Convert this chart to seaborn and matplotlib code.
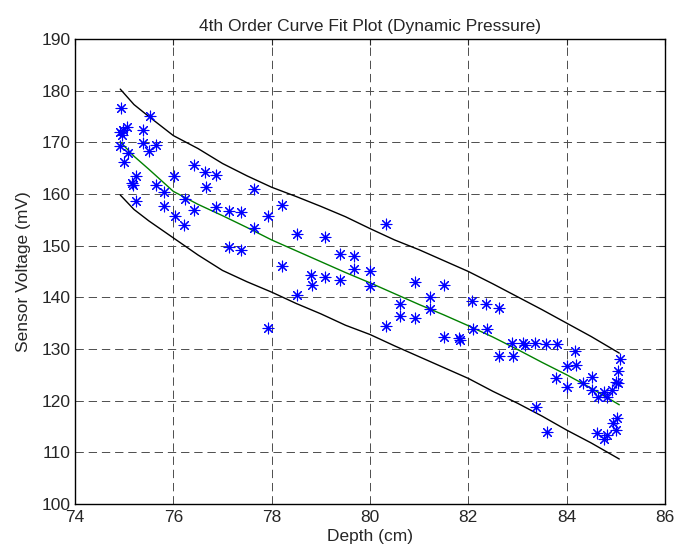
import matplotlib
matplotlib.use('Agg')
import matplotlib.pyplot as plt
import seaborn as sns
import pandas as pd

# Measured points
depth = [74.94, 75.52, 75.06, 74.92, 74.95, 74.98, 75.38, 75.38, 75.65, 75.50,
         74.91, 75.08, 75.00, 75.25, 75.15, 75.17, 75.65, 76.01, 75.82, 75.25,
         75.82, 76.03, 76.23, 76.22, 76.42, 76.41, 76.64, 76.87, 76.66, 76.87,
         77.13, 77.38, 77.65, 77.93, 78.20, 77.65, 77.13, 77.38, 78.20, 78.51,
         79.08, 80.32, 79.39, 79.68, 79.68, 80.00, 78.79, 79.08, 79.39, 78.81,
         80.00, 80.91, 78.51, 77.93, 80.61, 80.61, 80.32, 80.91, 81.51, 81.22,
         81.22, 82.07, 82.35, 82.62, 81.51, 81.81, 81.83, 82.10, 82.37, 82.88,
         83.12, 83.15, 83.36, 83.58, 83.80, 82.62, 82.90, 83.78, 84.17, 84.00,
         84.19, 84.00, 84.34, 84.51, 84.51, 84.64, 84.76, 84.83, 84.93, 85.00,
         85.05, 85.05, 85.08, 83.38, 83.59, 84.61, 84.76, 84.83, 84.95, 85.02,
         85.00]
voltage = [176.6, 175.0, 173.0, 171.9, 171.4, 172.3, 172.3, 169.9, 169.5, 168.4,
           169.2, 167.9, 166.1, 163.5, 162.2, 161.7, 161.7, 163.4, 160.3, 158.7,
           157.7, 155.7, 159.0, 153.9, 156.9, 165.7, 164.3, 163.6, 161.4, 157.4,
           156.7, 156.5, 161.0, 155.7, 157.9, 153.4, 149.8, 149.2, 146.1, 152.3,
           151.6, 154.2, 148.4, 147.9, 145.5, 145.0, 144.3, 143.9, 143.4, 142.4,
           142.2, 143.0, 140.5, 134.1, 138.7, 136.3, 134.5, 135.9, 142.3, 140.1,
           137.7, 139.2, 138.8, 138.0, 132.4, 132.2, 131.7, 133.9, 133.9, 131.1,
           131.1, 130.8, 131.2, 131.0, 131.0, 128.7, 128.7, 124.3, 129.7, 126.7,
           126.9, 122.6, 123.4, 124.5, 122.1, 120.7, 121.6, 120.7, 122.1, 123.7,
           123.4, 125.7, 128.1, 118.8, 114.0, 113.7, 112.5, 113.4, 115.6, 116.6,
           114.3]

# Fitted curve and bounds
fit_depth = [74.92, 75.2, 75.5, 76.0, 76.5, 77.0, 77.5, 78.0, 78.5, 79.0, 79.5,
             80.0, 80.5, 81.0, 81.5, 82.0, 82.5, 83.0, 83.5, 84.0, 84.5, 85.07]
fit_voltage = [170.1, 167.3, 164.8, 160.5, 158.0, 155.8, 153.5, 151.1, 149.0, 146.9, 144.8,
               142.8, 140.7, 138.6, 136.6, 134.5, 132.3, 129.9, 127.4, 125.0, 122.4, 119.2]
upper_voltage = [180.3, 177.3, 175.0, 171.3, 168.8, 165.9, 163.5, 161.3, 159.5, 157.6, 155.6,
                 153.3, 151.1, 149.2, 147.1, 145.0, 142.6, 140.1, 137.6, 135.0, 132.4, 129.2]
lower_voltage = [159.8, 157.0, 154.8, 151.5, 148.2, 145.2, 143.0, 141.0, 138.8, 136.8, 134.6,
                 132.8, 130.6, 128.5, 126.4, 124.3, 121.8, 119.5, 117.0, 114.3, 111.8, 108.7]

points = pd.DataFrame({'Depth': depth, 'Voltage': voltage})
curves = pd.DataFrame({'Depth': fit_depth, 'Fit': fit_voltage,
                       'Upper': upper_voltage, 'Lower': lower_voltage})

sns.set_style('white')
plt.rcParams['font.family'] = ['Liberation Sans', 'DejaVu Sans']
plt.rcParams['lines.scale_dashes'] = False

fig = plt.figure(figsize=(6.77, 5.52), dpi=100)
ax = fig.add_axes([0.1108, 0.0870, 0.8715, 0.8424])

sns.scatterplot(data=points, x='Depth', y='Voltage', marker=(8, 2, 0), s=60,
                color='#0000ff', edgecolor='#0000ff', linewidth=0.8, ax=ax, zorder=3)
sns.lineplot(data=curves, x='Depth', y='Fit', color='#008000', linewidth=1.0,
             sort=False, ax=ax, zorder=2)
sns.lineplot(data=curves, x='Depth', y='Upper', color='black', linewidth=1.0,
             sort=False, ax=ax, zorder=2)
sns.lineplot(data=curves, x='Depth', y='Lower', color='black', linewidth=1.0,
             sort=False, ax=ax, zorder=2)

ax.set_xlim(74, 86)
ax.set_ylim(100, 190)
ax.set_xticks(range(74, 87, 2))
ax.set_yticks(range(100, 191, 10))
ax.grid(True, color='0.3', linestyle=(0, (6, 3.5)), linewidth=0.7)
ax.tick_params(direction='in', top=True, right=True, length=4, labelsize=12.5)
ax.tick_params(axis='x', pad=4)
ax.tick_params(axis='y', pad=3)
for s in ax.spines.values():
    s.set_color('black')
    s.set_linewidth(1.0)

ax.set_title('4th Order Curve Fit Plot (Dynamic Pressure)', fontsize=12.5, pad=6)
ax.set_xlabel('Depth (cm)', fontsize=12.5, labelpad=3)
ax.set_ylabel('Sensor Voltage (mV)', fontsize=12.5, labelpad=8)

fig.savefig('out.png', dpi=100)
